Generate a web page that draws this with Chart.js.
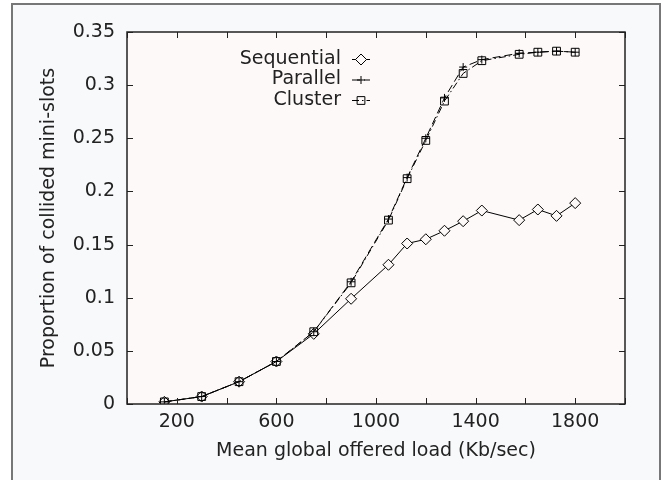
<!DOCTYPE html>
<html lang="en">
  <head>
    <meta charset="UTF-8" />
    <title>Proportion of collided mini-slots</title>
    <script src="https://cdn.jsdelivr.net/npm/chart.js"></script>
    <style>
      html, body { margin: 0; padding: 0; background: #fff; }
      #frame {
        position: absolute; left: 11px; top: 3px; width: 646px; height: 520px;
        border: 2px solid #777; background: #f8f9fb;
      }
      #wrap { position: absolute; left: 0; top: 0; width: 664px; height: 480px; }
    </style>
  </head>
  <body>
    <div id="frame"></div>
    <div id="wrap"><canvas id="chart" width="664" height="480"></canvas></div>

    <script>
      // values
      const loadKbps = [150, 300, 450, 600, 750, 900, 1050, 1125, 1200, 1275, 1350, 1425, 1575, 1650, 1725, 1800];
      const sequential = [0.002, 0.007, 0.021, 0.040, 0.066, 0.099, 0.131, 0.151, 0.155, 0.163, 0.172, 0.182, 0.173, 0.183, 0.177, 0.189];
      const parallel = [0.002, 0.007, 0.021, 0.040, 0.068, 0.115, 0.174, 0.213, 0.250, 0.288, 0.317, 0.324, 0.330, 0.331, 0.332, 0.331];
      const cluster = [0.002, 0.007, 0.021, 0.040, 0.068, 0.114, 0.173, 0.212, 0.248, 0.285, 0.311, 0.323, 0.329, 0.331, 0.332, 0.331];
      const seriesNames = ["Sequential", "Parallel", "Cluster"];
      const xLabelled = [200, 600, 1000, 1400, 1800];

      const FONT = "'DejaVu Sans', sans-serif";
      const INK = "#222";

      const toPoints = (ys) => loadKbps.map((x, i) => ({ x: x, y: ys[i] }));

      // gnuplot-like box, inward ticks and key
      const gnuplotLook = {
        id: "gnuplotLook",
        beforeDraw(chart) {
          const { ctx, chartArea: a } = chart;
          ctx.save();
          ctx.fillStyle = "#fdf9f8";
          ctx.fillRect(a.left, a.top, a.right - a.left, a.bottom - a.top);
          ctx.restore();
        },
        afterDatasetsDraw(chart) {
          const { ctx, chartArea: a } = chart;
          const xs = chart.scales.x, ys = chart.scales.y;
          ctx.save();
          ctx.strokeStyle = INK;
          ctx.lineWidth = 1;
          ctx.beginPath();
          xs.ticks.forEach((t) => {
            const px = Math.round(xs.getPixelForValue(t.value)) + 0.5;
            ctx.moveTo(px, a.bottom); ctx.lineTo(px, a.bottom - 6);
            ctx.moveTo(px, a.top); ctx.lineTo(px, a.top + 6);
          });
          ys.ticks.forEach((t) => {
            const py = Math.round(ys.getPixelForValue(t.value)) + 0.5;
            ctx.moveTo(a.left, py); ctx.lineTo(a.left + 6, py);
            ctx.moveTo(a.right, py); ctx.lineTo(a.right - 6, py);
          });
          ctx.stroke();
          ctx.lineWidth = 1.5;
          ctx.strokeRect(a.left, a.top, a.right - a.left, a.bottom - a.top);

          // key
          ctx.font = "19px " + FONT;
          ctx.fillStyle = INK;
          ctx.textAlign = "right";
          ctx.textBaseline = "middle";
          chart.data.datasets.forEach((ds, i) => {
            const y = 59 + i * 20.5;
            ctx.fillText(ds.label, 341, y);
            ctx.save();
            ctx.lineWidth = 1;
            ctx.strokeStyle = "#000";
            ctx.setLineDash(ds.borderDash || []);
            ctx.beginPath();
            ctx.moveTo(352, y + 0.5); ctx.lineTo(370, y + 0.5);
            ctx.stroke();
            ctx.setLineDash([]);
            ctx.fillStyle = ds.pointBackgroundColor;
            Chart.helpers.drawPoint(ctx, {
              pointStyle: ds.pointStyle, radius: ds.pointRadius, rotation: 0, borderWidth: 1,
            }, 361, y + 0.5);
            ctx.restore();
          });
          ctx.restore();
        },
      };

      new Chart(document.getElementById("chart"), {
        type: "line",
        data: {
          datasets: [
            {
              label: seriesNames[0], data: toPoints(sequential), order: 3,
              borderColor: "#000", borderWidth: 1, tension: 0,
              pointStyle: "rectRot", pointRadius: 5.5, pointBorderColor: "#000",
              pointBackgroundColor: "#fdf9f8", pointBorderWidth: 1,
            },
            {
              label: seriesNames[1], data: toPoints(parallel), order: 1,
              borderColor: "#000", borderWidth: 1, borderDash: [8, 4], tension: 0,
              pointStyle: "cross", pointRadius: 4, pointBorderColor: "#000",
              pointBackgroundColor: "rgba(0,0,0,0)", pointBorderWidth: 1,
            },
            {
              label: seriesNames[2], data: toPoints(cluster), order: 2,
              borderColor: "#000", borderWidth: 1, borderDash: [7, 3, 1.5, 3], tension: 0,
              pointStyle: "rect", pointRadius: 5.5, pointBorderColor: "#000",
              pointBackgroundColor: "rgba(0,0,0,0)", pointBorderWidth: 1,
            },
          ],
        },
        options: {
          responsive: false,
          animation: false,
          devicePixelRatio: 1,
          layout: { padding: { left: 0, right: 39, top: 32, bottom: 0 } },
          plugins: { legend: { display: false }, tooltip: { enabled: false } },
          scales: {
            x: {
              type: "linear", min: 0, max: 2000,
              grid: { display: false, drawTicks: false },
              border: { display: false },
              ticks: {
                stepSize: 200, padding: 7, color: INK, maxRotation: 0, autoSkip: false,
                font: { family: FONT, size: 19 },
                callback: (v) => (xLabelled.includes(v) ? String(v) : ""),
              },
              title: {
                display: true, text: "Mean global offered load (Kb/sec)", color: INK,
                font: { family: FONT, size: 19 }, padding: { top: 0, bottom: 18 },
              },
              afterFit: (s) => { s.height = 76; },
            },
            y: {
              min: 0, max: 0.35,
              grid: { display: false, drawTicks: false },
              border: { display: false },
              ticks: {
                stepSize: 0.05, padding: 12, color: INK,
                font: { family: FONT, size: 19 },
                callback: (v) => String(Number(v.toFixed(2))),
              },
              title: {
                display: true, text: "Proportion of collided mini-slots", color: INK,
                font: { family: FONT, size: 19 }, padding: { top: 38, bottom: 0 },
              },
              afterFit: (s) => { s.width = 127; },
            },
          },
        },
        plugins: [gnuplotLook],
      });
    </script>
  </body>
</html>
